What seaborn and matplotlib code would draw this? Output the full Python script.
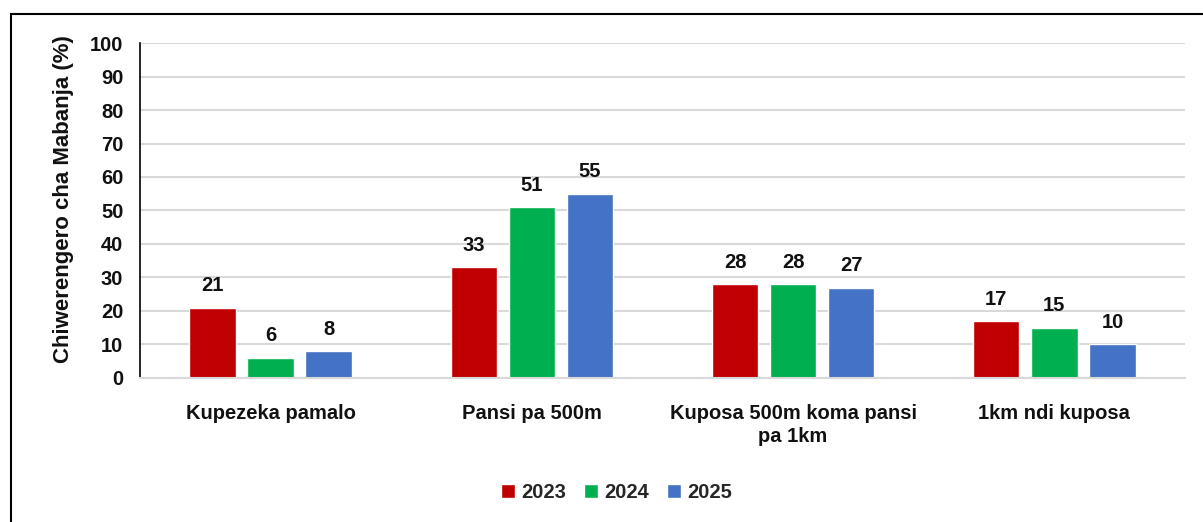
import pandas as pd
import matplotlib.pyplot as plt
import seaborn as sns
from matplotlib.patches import Rectangle

# Data
categories = ['Kupezeka pamalo', 'Pansi pa 500m', 'Kuposa 500m koma pansi\npa 1km', '1km ndi kuposa']
years = ['2023', '2024', '2025']
values_2023 = [21, 33, 28, 17]
values_2024 = [6, 51, 28, 15]
values_2025 = [8, 55, 27, 10]
colors = ['#C00000', '#00B050', '#4472C4']

df = pd.DataFrame({
    'Category': categories * 3,
    'Year': [y for y in years for _ in categories],
    'Value': values_2023 + values_2024 + values_2025,
})

sns.set_theme(style='white')
plt.rcParams['font.family'] = ['Liberation Sans', 'DejaVu Sans']
plt.rcParams['font.weight'] = 'bold'

fig = plt.figure(figsize=(12.03, 5.22), dpi=100)
ax = fig.add_axes([0.1164, 0.2759, 0.8686, 0.6417])

sns.barplot(data=df, x='Category', y='Value', hue='Year', palette=colors,
            width=0.667, gap=0.2, ax=ax, saturation=1, legend=True)

# value labels
for cont in ax.containers:
    ax.bar_label(cont, padding=9, fontsize=14.5, fontweight='bold', color='#111111')

ax.set_ylim(0, 100)
ax.set_yticks(range(0, 101, 10))
ax.set_xlim(-0.5, 3.5)
ax.yaxis.grid(True, color='#D9D9D9', linewidth=1.5)
ax.set_axisbelow(True)
for s in ['top', 'right']:
    ax.spines[s].set_visible(False)
ax.spines['left'].set_color('black')
ax.spines['left'].set_linewidth(1.2)
ax.spines['bottom'].set_color('#D9D9D9')
ax.spines['bottom'].set_linewidth(1.5)
ax.tick_params(axis='both', length=0, labelsize=14.5, colors='#111111')
ax.tick_params(axis='x', pad=19)
ax.tick_params(axis='y', pad=12)
for lbl in ax.get_xticklabels() + ax.get_yticklabels():
    lbl.set_fontweight('bold')
    lbl.set_linespacing(1.25)
ax.set_xlabel('')
ax.set_ylabel('Chiwerengero cha Mabanja (%)', fontsize=16, fontweight='bold',
              color='#111111')
ax.yaxis.set_label_coords(-0.063, 0.534)

ax.legend(loc='center', bbox_to_anchor=(0.456, -0.343), ncol=3, frameon=False,
          prop={'weight': 'bold', 'size': 14.5},
          handlelength=0.7, handleheight=0.7, handletextpad=0.3, columnspacing=0.9)

# outer border (left and top visible in reference)
fig.patches.append(Rectangle((0.009, -0.05), 1.1, 1.023, transform=fig.transFigure,
                             fill=False, edgecolor='black', linewidth=1.5))

fig.savefig('out.png', dpi=100)
